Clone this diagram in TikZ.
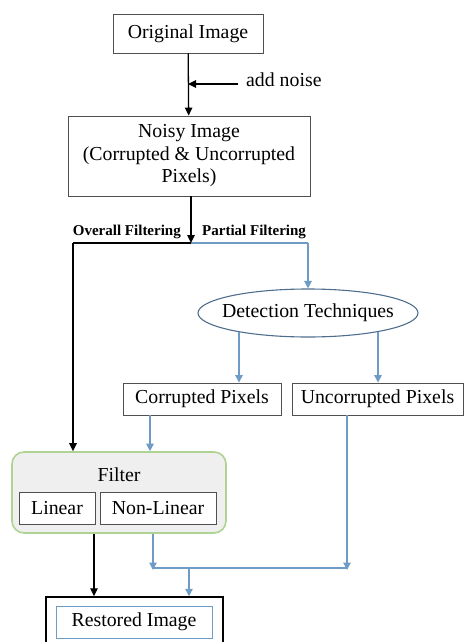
\documentclass[tikz,border=0pt]{standalone}
\usepackage{fontspec}
\setmainfont{Liberation Serif}
\usetikzlibrary{arrows.meta,shapes.geometric}
\definecolor{flowblue}{HTML}{6F9CC6}
\definecolor{ellblue}{HTML}{4F6E8E}
\definecolor{filtgreen}{HTML}{AED392}
\definecolor{filtfill}{HTML}{EFEFEF}
\definecolor{boxgray}{HTML}{505050}
\tikzset{
  x=1pt, y=-1pt,
  txt/.style={font=\fontsize{19.8}{22.5}\selectfont},
  plainbox/.style={txt, draw=boxgray, line width=0.9pt, inner sep=0pt, align=center},
  small/.style={font=\fontsize{15}{16}\selectfont\bfseries, inner sep=0pt},
  blk/.style={line width=1.3pt, -{Triangle[length=8pt,width=7.5pt]}},
  blkline/.style={line width=1.3pt},
  blu/.style={draw=flowblue, line width=1.2pt, -{Triangle[length=7.5pt,width=7.5pt]}},
  bluline/.style={draw=flowblue, line width=1.2pt},
}
\begin{document}
\begin{tikzpicture}
\useasboundingbox (0,0) rectangle (465,642);
% nodes
\node[plainbox, minimum width=150, minimum height=39] (orig) at (188,33.5) {Original Image};
\node[plainbox, minimum width=242, minimum height=80] (noisy) at (189,156) {Noisy Image\\(Corrupted \& Uncorrupted\\Pixels)};
\node[txt, anchor=west, inner sep=0pt] (addn) at (246,80) {add noise};
\node[small, anchor=east] (ovf) at (181,232) {Overall Filtering};
\node[small, anchor=west] (ptf) at (202,232) {Partial Filtering};
\node[ellipse, draw=ellblue, line width=1.1pt, minimum width=220, minimum height=48, inner sep=0pt] (det) at (308,313) {};
\node[txt, inner sep=0pt] (dettext) at (det.center) {Detection Techniques};
\node[plainbox, minimum width=158, minimum height=32] (cor) at (202,399) {Corrupted Pixels};
\node[plainbox, minimum width=171, minimum height=32] (uncor) at (377.5,399) {Uncorrupted Pixels};
\node[draw=filtgreen, fill=filtfill, line width=1.6pt, rounded corners=12pt, minimum width=214, minimum height=81, inner sep=0pt] (filter) at (119,492.5) {};
\node[txt, inner sep=0pt] (ftitle) at (119,475) {Filter};
\node[plainbox, fill=white, minimum width=76, minimum height=32] (lin) at (57,508) {Linear};
\node[plainbox, fill=white, minimum width=116, minimum height=32] (nlin) at (158,508) {Non-Linear};
\node[draw=black, line width=1.5pt, minimum width=177, minimum height=56, inner sep=0pt] (rest) at (134.5,625) {};
\node[txt, draw=flowblue, line width=1pt, minimum width=156, minimum height=32, inner sep=0pt] (restin) at (134,622) {Restored Image};
% coordinates
\coordinate (an) at (238,84);
\coordinate (j) at (191,243);
\coordinate (jl) at (73,243);
\coordinate (e1) at (239,0);
\coordinate (e2) at (378,0);
\coordinate (cx) at (150,0);
\coordinate (bx) at (94,0);
\coordinate (m1) at (153,568);
\coordinate (m2) at (347,568);
\coordinate (mj) at (189,568);
% connectors
\draw[blk] (orig) -- (noisy);
\draw[blk] (an) -- (an -| orig);
\draw[bluline] (j) -- (j -| det) ;
\draw[blu] (j -| det) -- (det.north);
\draw[blk] (noisy.south -| j) -- (j);
\draw[blkline] (j) -- (jl);
\draw[blk] (jl) -- (jl |- filter.north);
\draw[blu] (det.195.2 -| e1) -- (e1 |- cor.north);
\draw[blu] (det.345.2 -| e2) -- (e2 |- uncor.north);
\draw[blu] (cor.south -| cx) -- (filter.north -| cx);
\draw[blk] (filter.south -| bx) -- (rest.north -| bx);
\draw[blu] (filter.south -| m1) -- ([yshift=-2pt]m1);
\draw[blu] (uncor.south -| m2) -- ([yshift=-2pt]m2);
\draw[bluline] (m1) -- (m2);
\draw[blu] (mj) -- (mj |- rest.north);
\end{tikzpicture}
\end{document}
